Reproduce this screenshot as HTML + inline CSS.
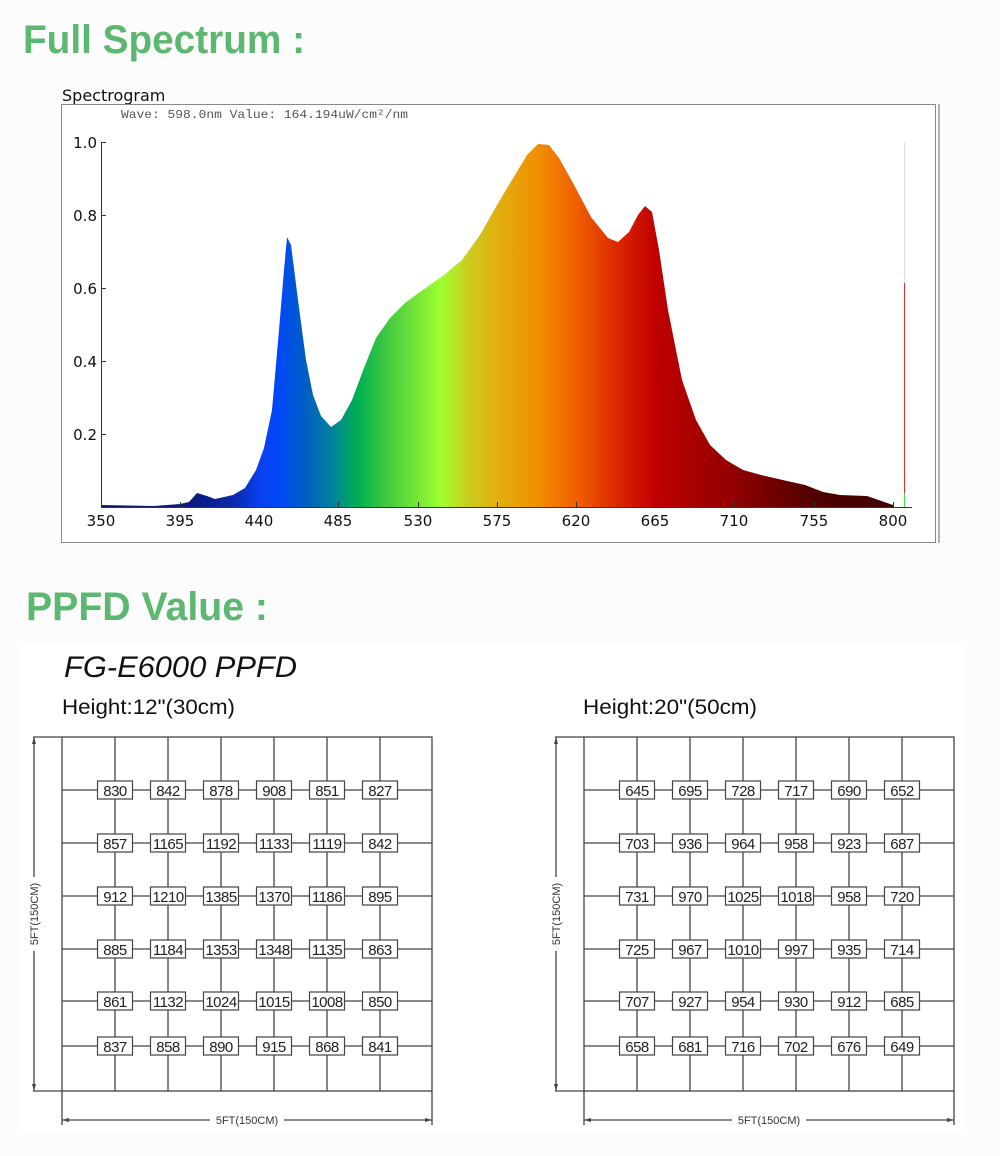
<!DOCTYPE html>
<html><head><meta charset="utf-8"><style>
html,body{margin:0;padding:0;background:#fcfcfc;}
svg{display:block;}
</style></head><body>
<svg width="1000" height="1156" viewBox="0 0 1000 1156" xmlns="http://www.w3.org/2000/svg" font-family="Liberation Sans, sans-serif">
<defs>
<linearGradient id="sp" gradientUnits="userSpaceOnUse" x1="101" y1="0" x2="893" y2="0">
<stop offset="0" stop-color="#0a1a70"/>
<stop offset="0.12" stop-color="#0a1a80"/>
<stop offset="0.17" stop-color="#0a2ab0"/>
<stop offset="0.2" stop-color="#0a40f0"/>
<stop offset="0.225" stop-color="#0048f8"/>
<stop offset="0.26" stop-color="#0060c0"/>
<stop offset="0.29" stop-color="#0080a0"/>
<stop offset="0.325" stop-color="#00b050"/>
<stop offset="0.36" stop-color="#40c840"/>
<stop offset="0.43" stop-color="#a0ff30"/>
<stop offset="0.46" stop-color="#c8d020"/>
<stop offset="0.5" stop-color="#e0b010"/>
<stop offset="0.55" stop-color="#f09000"/>
<stop offset="0.6" stop-color="#f06000"/>
<stop offset="0.66" stop-color="#d82000"/>
<stop offset="0.7" stop-color="#c00000"/>
<stop offset="0.8" stop-color="#900000"/>
<stop offset="0.9" stop-color="#500000"/>
<stop offset="1" stop-color="#400000"/>
</linearGradient>
</defs>
<rect width="1000" height="1156" fill="#fcfcfc"/>
<text x="23" y="53" font-size="40" font-weight="bold" fill="#5cb870" textLength="282" lengthAdjust="spacingAndGlyphs">Full Spectrum :</text>

<!-- spectrogram -->
<text x="62" y="101" font-size="16" fill="#111" font-family="DejaVu Sans, sans-serif">Spectrogram</text>
<rect x="61.5" y="104.5" width="874" height="438" fill="#fff" stroke="#888"/>
<line x1="939" y1="104" x2="939" y2="543" stroke="#999" stroke-width="1.5"/>
<text x="121" y="118" font-size="12" fill="#555" font-family="Liberation Mono, monospace" textLength="287" lengthAdjust="spacingAndGlyphs">Wave: 598.0nm Value: 164.194uW/cm²/nm</text>
<path fill="url(#sp)" d="M101,505 L154,506 L180,504 L189,502 L197,493 L207,496 L215,499 L233,495 L245,488 L256,470 L264,448 L272,410 L279,330 L284,270 L287,237 L291,245 L298,300 L306,360 L313,395 L321,416 L331,427 L341,420 L352,400 L364,368 L376,338 L390,318 L405,303 L420,292 L444,275 L462,260 L480,235 L497,205 L515,175 L527,155 L538,144 L549,145 L559,158 L573,183 L591,217 L608,238 L618,242 L629,232 L638,215 L645,206 L652,212 L659,250 L668,310 L682,380 L696,420 L710,445 L726,460 L743,470 L761,475 L787,481 L805,485 L823,492 L840,495 L867,496 L893,505 L893,507 L101,507 Z"/>
<g stroke="#333" stroke-width="1" fill="none">
<line x1="101.5" y1="142" x2="101.5" y2="507"/>
<line x1="101" y1="507.5" x2="912" y2="507.5"/>
<line x1="101" y1="142.5" x2="106" y2="142.5"/>
<line x1="101" y1="215.5" x2="106" y2="215.5"/>
<line x1="101" y1="288.5" x2="106" y2="288.5"/>
<line x1="101" y1="361.5" x2="106" y2="361.5"/>
<line x1="101" y1="434.5" x2="106" y2="434.5"/>
<line x1="180.5" y1="502" x2="180.5" y2="507"/>
<line x1="259.5" y1="502" x2="259.5" y2="507"/>
<line x1="338.5" y1="502" x2="338.5" y2="507"/>
<line x1="418.5" y1="502" x2="418.5" y2="507"/>
<line x1="497.5" y1="502" x2="497.5" y2="507"/>
<line x1="576.5" y1="502" x2="576.5" y2="507"/>
<line x1="655.5" y1="502" x2="655.5" y2="507"/>
<line x1="734.5" y1="502" x2="734.5" y2="507"/>
<line x1="814.5" y1="502" x2="814.5" y2="507"/>
<line x1="893.5" y1="502" x2="893.5" y2="507"/>
</g>
<line x1="904.5" y1="142" x2="904.5" y2="283" stroke="#ddd"/>
<line x1="904.5" y1="283" x2="904.5" y2="493" stroke="#e03030"/>
<line x1="904.5" y1="493" x2="904.5" y2="507" stroke="#40e040"/>
<g font-size="15" fill="#111" font-family="DejaVu Sans, sans-serif" text-anchor="end">
<text x="97" y="148">1.0</text><text x="97" y="221">0.8</text><text x="97" y="294">0.6</text><text x="97" y="367">0.4</text><text x="97" y="440">0.2</text>
</g>
<g font-size="15" fill="#111" font-family="DejaVu Sans, sans-serif" text-anchor="middle">
<text x="101" y="526">350</text><text x="180" y="526">395</text><text x="259" y="526">440</text><text x="338" y="526">485</text><text x="418" y="526">530</text><text x="497" y="526">575</text><text x="576" y="526">620</text><text x="655" y="526">665</text><text x="734" y="526">710</text><text x="814" y="526">755</text><text x="893" y="526">800</text>
</g>

<text x="26" y="620" font-size="40" font-weight="bold" fill="#5cb870" textLength="242" lengthAdjust="spacingAndGlyphs">PPFD Value :</text>

<rect x="20" y="643" width="943" height="490" fill="#fff"/>
<text x="64" y="677" font-size="30" font-style="italic" fill="#111" textLength="233" lengthAdjust="spacingAndGlyphs">FG-E6000 PPFD</text>
<text x="62" y="714" font-size="21" fill="#111" textLength="173" lengthAdjust="spacingAndGlyphs">Height:12"(30cm)</text>
<text x="583" y="714" font-size="21" fill="#111" textLength="174" lengthAdjust="spacingAndGlyphs">Height:20"(50cm)</text>

<!-- left grid -->
<g stroke="#444" stroke-width="1.3" fill="none">
<rect x="62" y="737" width="370" height="354"/>
<path d="M115,737V1091M168,737V1091M221,737V1091M274,737V1091M327,737V1091M380,737V1091"/>
<path d="M62,790H432M62,843H432M62,896H432M62,949H432M62,1001H432M62,1046H432"/>
<path d="M33,737H62M33,1091H62M34,737V1091M62,1091V1125M432,1091V1125M62,1120H432"/>
</g>
<path d="M34,737l-2,7h4zM34,1091l-2,-7h4zM62,1120l7,-2v4zM432,1120l-7,-2v4z" fill="#444"/>
<!-- right grid -->
<g stroke="#444" stroke-width="1.3" fill="none">
<rect x="584" y="737" width="370" height="354"/>
<path d="M637,737V1091M690,737V1091M743,737V1091M796,737V1091M849,737V1091M902,737V1091"/>
<path d="M584,790H954M584,843H954M584,896H954M584,949H954M584,1001H954M584,1046H954"/>
<path d="M555,737H584M555,1091H584M556,737V1091M584,1091V1125M954,1091V1125M584,1120H954"/>
</g>
<path d="M556,737l-2,7h4zM556,1091l-2,-7h4zM584,1120l7,-2v4zM954,1120l-7,-2v4z" fill="#444"/>
<rect x="210" y="1112" width="74" height="16" fill="#fff"/>
<rect x="732" y="1112" width="74" height="16" fill="#fff"/>
<rect x="26" y="877" width="16" height="74" fill="#fff"/>
<rect x="548" y="877" width="16" height="74" fill="#fff"/>
<g font-size="11" fill="#333">
<text x="247" y="1124" text-anchor="middle">5FT(150CM)</text>
<text x="769" y="1124" text-anchor="middle">5FT(150CM)</text>
<text transform="translate(38,914) rotate(-90)" text-anchor="middle">5FT(150CM)</text>
<text transform="translate(560,914) rotate(-90)" text-anchor="middle">5FT(150CM)</text>
</g>

<!-- boxes -->
<g fill="#fff" stroke="#444" stroke-width="1.2">
<rect x="97.5" y="781" width="35" height="18"/><rect x="150.5" y="781" width="35" height="18"/><rect x="203.5" y="781" width="35" height="18"/><rect x="256.5" y="781" width="35" height="18"/><rect x="309.5" y="781" width="35" height="18"/><rect x="362.5" y="781" width="35" height="18"/>
<rect x="97.5" y="834" width="35" height="18"/><rect x="150.5" y="834" width="35" height="18"/><rect x="203.5" y="834" width="35" height="18"/><rect x="256.5" y="834" width="35" height="18"/><rect x="309.5" y="834" width="35" height="18"/><rect x="362.5" y="834" width="35" height="18"/>
<rect x="97.5" y="887" width="35" height="18"/><rect x="150.5" y="887" width="35" height="18"/><rect x="203.5" y="887" width="35" height="18"/><rect x="256.5" y="887" width="35" height="18"/><rect x="309.5" y="887" width="35" height="18"/><rect x="362.5" y="887" width="35" height="18"/>
<rect x="97.5" y="940" width="35" height="18"/><rect x="150.5" y="940" width="35" height="18"/><rect x="203.5" y="940" width="35" height="18"/><rect x="256.5" y="940" width="35" height="18"/><rect x="309.5" y="940" width="35" height="18"/><rect x="362.5" y="940" width="35" height="18"/>
<rect x="97.5" y="992" width="35" height="18"/><rect x="150.5" y="992" width="35" height="18"/><rect x="203.5" y="992" width="35" height="18"/><rect x="256.5" y="992" width="35" height="18"/><rect x="309.5" y="992" width="35" height="18"/><rect x="362.5" y="992" width="35" height="18"/>
<rect x="97.5" y="1037" width="35" height="18"/><rect x="150.5" y="1037" width="35" height="18"/><rect x="203.5" y="1037" width="35" height="18"/><rect x="256.5" y="1037" width="35" height="18"/><rect x="309.5" y="1037" width="35" height="18"/><rect x="362.5" y="1037" width="35" height="18"/>
<rect x="619.5" y="781" width="35" height="18"/><rect x="672.5" y="781" width="35" height="18"/><rect x="725.5" y="781" width="35" height="18"/><rect x="778.5" y="781" width="35" height="18"/><rect x="831.5" y="781" width="35" height="18"/><rect x="884.5" y="781" width="35" height="18"/>
<rect x="619.5" y="834" width="35" height="18"/><rect x="672.5" y="834" width="35" height="18"/><rect x="725.5" y="834" width="35" height="18"/><rect x="778.5" y="834" width="35" height="18"/><rect x="831.5" y="834" width="35" height="18"/><rect x="884.5" y="834" width="35" height="18"/>
<rect x="619.5" y="887" width="35" height="18"/><rect x="672.5" y="887" width="35" height="18"/><rect x="725.5" y="887" width="35" height="18"/><rect x="778.5" y="887" width="35" height="18"/><rect x="831.5" y="887" width="35" height="18"/><rect x="884.5" y="887" width="35" height="18"/>
<rect x="619.5" y="940" width="35" height="18"/><rect x="672.5" y="940" width="35" height="18"/><rect x="725.5" y="940" width="35" height="18"/><rect x="778.5" y="940" width="35" height="18"/><rect x="831.5" y="940" width="35" height="18"/><rect x="884.5" y="940" width="35" height="18"/>
<rect x="619.5" y="992" width="35" height="18"/><rect x="672.5" y="992" width="35" height="18"/><rect x="725.5" y="992" width="35" height="18"/><rect x="778.5" y="992" width="35" height="18"/><rect x="831.5" y="992" width="35" height="18"/><rect x="884.5" y="992" width="35" height="18"/>
<rect x="619.5" y="1037" width="35" height="18"/><rect x="672.5" y="1037" width="35" height="18"/><rect x="725.5" y="1037" width="35" height="18"/><rect x="778.5" y="1037" width="35" height="18"/><rect x="831.5" y="1037" width="35" height="18"/><rect x="884.5" y="1037" width="35" height="18"/>
</g>
<g font-size="15" fill="#222" text-anchor="middle" letter-spacing="-0.5">
<text x="115" y="796">830</text><text x="168" y="796">842</text><text x="221" y="796">878</text><text x="274" y="796">908</text><text x="327" y="796">851</text><text x="380" y="796">827</text>
<text x="115" y="849">857</text><text x="168" y="849">1165</text><text x="221" y="849">1192</text><text x="274" y="849">1133</text><text x="327" y="849">1119</text><text x="380" y="849">842</text>
<text x="115" y="902">912</text><text x="168" y="902">1210</text><text x="221" y="902">1385</text><text x="274" y="902">1370</text><text x="327" y="902">1186</text><text x="380" y="902">895</text>
<text x="115" y="955">885</text><text x="168" y="955">1184</text><text x="221" y="955">1353</text><text x="274" y="955">1348</text><text x="327" y="955">1135</text><text x="380" y="955">863</text>
<text x="115" y="1007">861</text><text x="168" y="1007">1132</text><text x="221" y="1007">1024</text><text x="274" y="1007">1015</text><text x="327" y="1007">1008</text><text x="380" y="1007">850</text>
<text x="115" y="1052">837</text><text x="168" y="1052">858</text><text x="221" y="1052">890</text><text x="274" y="1052">915</text><text x="327" y="1052">868</text><text x="380" y="1052">841</text>
<text x="637" y="796">645</text><text x="690" y="796">695</text><text x="743" y="796">728</text><text x="796" y="796">717</text><text x="849" y="796">690</text><text x="902" y="796">652</text>
<text x="637" y="849">703</text><text x="690" y="849">936</text><text x="743" y="849">964</text><text x="796" y="849">958</text><text x="849" y="849">923</text><text x="902" y="849">687</text>
<text x="637" y="902">731</text><text x="690" y="902">970</text><text x="743" y="902">1025</text><text x="796" y="902">1018</text><text x="849" y="902">958</text><text x="902" y="902">720</text>
<text x="637" y="955">725</text><text x="690" y="955">967</text><text x="743" y="955">1010</text><text x="796" y="955">997</text><text x="849" y="955">935</text><text x="902" y="955">714</text>
<text x="637" y="1007">707</text><text x="690" y="1007">927</text><text x="743" y="1007">954</text><text x="796" y="1007">930</text><text x="849" y="1007">912</text><text x="902" y="1007">685</text>
<text x="637" y="1052">658</text><text x="690" y="1052">681</text><text x="743" y="1052">716</text><text x="796" y="1052">702</text><text x="849" y="1052">676</text><text x="902" y="1052">649</text>
</g>
</svg>
</body></html>
